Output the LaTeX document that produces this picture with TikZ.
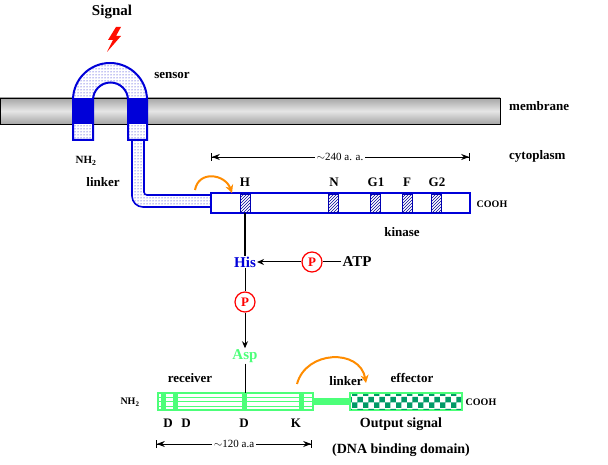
\documentclass[tikz,border=0pt]{standalone}
\usepackage{fontspec}
\setmainfont{Liberation Serif}
\usetikzlibrary{patterns,arrows.meta,shapes.geometric}
\begin{document}
\begin{tikzpicture}[x=1pt,y=-1pt,font=\bfseries\fontsize{13}{15}\selectfont,
  blu/.style={draw=blue!85!black,line width=2pt},
  hat/.style={draw=blue!70!black,line width=0.8pt,pattern=north east lines,pattern color=blue!60!black},
  grn/.style={draw=green!75!cyan!70,line width=2pt},
  ph/.style={circle,draw=red,line width=1.2pt,text=red,inner sep=1.5pt,minimum size=20pt},
  lab/.style={inner sep=1pt},
  arr/.style={-{Stealth[length=7pt,width=6pt]},line width=1pt},
  dim/.style={{Bar[width=8pt]Stealth[length=8pt]}-{Stealth[length=8pt]Bar[width=8pt]},line width=0.8pt},
  orng/.style={draw=orange!90!yellow,line width=2pt,-{Stealth[length=8pt,width=8pt]}}]
\useasboundingbox (0,0) rectangle (608,465);
% membrane
\shade[top color=gray!70,bottom color=gray!70,middle color=gray!20,draw=black,line width=0.6pt] (0,98) rectangle (500,124);
\node[lab,anchor=west] (mem) at (508,106) {membrane};
\node[lab,anchor=west] (cyt) at (508,156) {cytoplasm};
% signal
\node[lab,font=\bfseries\fontsize{15}{17}\selectfont] (sig) at (112,12) {Signal};
\fill[red!90!orange] (116,27)--(108,40)--(113,40)--(107,52)--(121,36)--(116,36)--(121,27)--cycle;
% sensor
\def\senpath{(73,140)--(73,100) arc[start angle=180,end angle=360,radius=37] -- (147,140)--(128,140)--(128,100) arc[start angle=0,end angle=-180,radius=17.5]--(93,140)--cycle}
\filldraw[blu,fill=white] \senpath;
\fill[pattern=dots,pattern color=blue!80!black] \senpath;
\fill[blue!85!black] (73,98) rectangle (93,124);
\fill[blue!85!black] (128,98) rectangle (147,124);
\node[lab] (sen) at (172,75) {sensor};
\node[lab,font=\bfseries\fontsize{11}{13}\selectfont] (nh2a) at (86,161) {NH$_\mathbf{2}$};
% linker tube
\def\tubepath{(132,140)--(132,196) arc[start angle=180,end angle=90,radius=11]--(211,207)--(211,195)--(147,195) arc[start angle=90,end angle=180,radius=3]--(144,140)--cycle}
\filldraw[blu,fill=white,line width=1.6pt] \tubepath;
\fill[pattern=dots,pattern color=blue!80!black] \tubepath;
\node[lab] (lnk) at (103,182) {linker};
% kinase
\draw[blu,fill=white] (211,193) rectangle (470,213);
\foreach \x in {240,328,370,402,431} \draw[hat] (\x,194) rectangle (\x+10,212);
\node[lab] (H) at (245,182) {H};
\node[lab] (N) at (334,182) {N};
\node[lab] (G1) at (376,182) {G1};
\node[lab] (F) at (407,182) {F};
\node[lab] (G2) at (437,182) {G2};
\node[lab,font=\bfseries\fontsize{10}{12}\selectfont] (cooh1) at (492,204) {COOH};
\node[lab] (kin) at (402,232) {kinase};
\coordinate (d1) at (211,157); \coordinate (d2) at (470,157);
\draw[dim] (d1)--(d2);
\node[fill=white,inner sep=2pt,font=\fontsize{11}{12}\selectfont] (aa240) at (340,157) {$\sim$240 a. a.};
\coordinate (o1) at (195,190); \coordinate (o2) at (232,193);
\draw[orng] (o1) to[out=80,in=110,looseness=1.4] (o2);
% phosphotransfer
\coordinate (hb) at (245,213);
\node[lab,text=blue!85!black,font=\bfseries\fontsize{15}{17}\selectfont] (his) at (245,262) {His};
\draw[line width=1.5pt] (hb)--(his.north);
\node[ph] (p1) at (312,262) {P};
\node[lab,font=\bfseries\fontsize{15}{17}\selectfont] (atp) at (357,262) {ATP};
\draw[line width=1pt] (atp)--(p1);
\draw[arr] (p1)--(his);
\node[ph] (p2) at (245,302) {P};
\draw[line width=1pt] (his)--(p2);
\node[lab,text=green!75!cyan!70,font=\bfseries\fontsize{15}{17}\selectfont] (asp) at (245,356) {Asp};
\draw[arr] (p2)--(asp);
% response regulator
\draw[grn,fill=white] (158,393) rectangle (313,410);
\foreach \y in {397,401.5,406} \draw[green!75!cyan!70,line width=0.8pt] (158,\y)--(313,\y);
\foreach \x in {163,175,244,301} \fill[green!75!cyan!70] (\x-2.5,393) rectangle (\x+2.5,410);
\fill[green!75!cyan!70] (313,398) rectangle (350,405);
\draw[grn,fill=white] (350,393) rectangle (462,410);
\fill[pattern=checkerboard,pattern color=teal!80!green] (351,394) rectangle (461,409);
\draw[line width=1pt] (asp)--(245,393);
\node[lab,font=\bfseries\fontsize{10}{12}\selectfont] (nh2b) at (130,402) {NH$_\mathbf{2}$};
\node[lab,font=\bfseries\fontsize{10}{12}\selectfont] (cooh2) at (481,402) {COOH};
\node[lab] (rec) at (190,378) {receiver};
\node[lab] (lnk2) at (346,381) {linker};
\node[lab] (eff) at (412,378) {effector};
\node[lab] (D1) at (168,423) {D};
\node[lab] (D2) at (186,423) {D};
\node[lab] (D3) at (244,423) {D};
\node[lab] (K) at (296,423) {K};
\node[lab,font=\bfseries\fontsize{14}{16}\selectfont] (out) at (401,424) {Output signal};
\node[lab,font=\bfseries\fontsize{14}{16}\selectfont] (dna) at (401,450) {(DNA binding domain)};
\coordinate (e1) at (156,444); \coordinate (e2) at (312,444);
\draw[dim] (e1)--(e2);
\node[fill=white,inner sep=2pt,font=\fontsize{11}{12}\selectfont] (aa120) at (234,444) {$\sim$120 a.a};
\coordinate (o3) at (297,384); \coordinate (o4) at (366,383);
\draw[orng] (o3) to[out=75,in=100,looseness=1.3] (o4);
\end{tikzpicture}
\end{document}
